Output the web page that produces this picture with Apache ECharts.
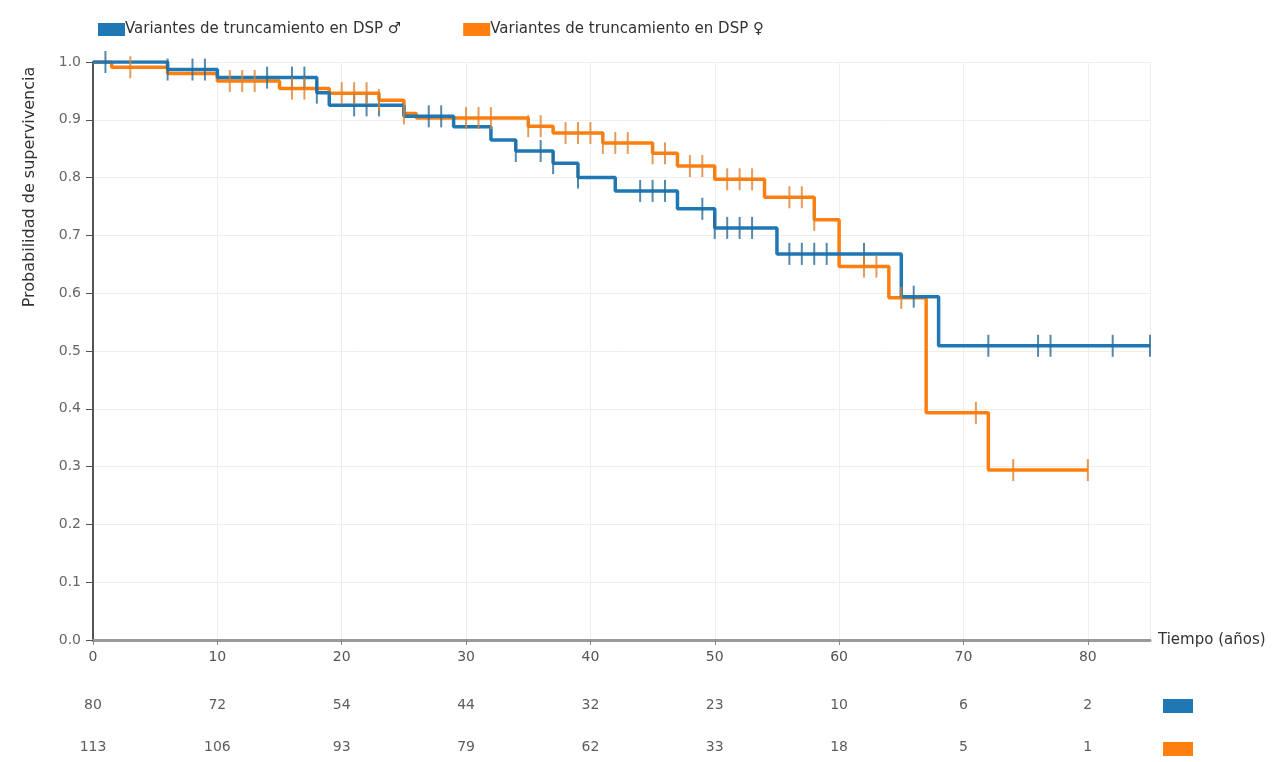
<!DOCTYPE html>
<html>
<head>
<meta charset="utf-8">
<script src="https://cdn.jsdelivr.net/npm/echarts@6/dist/echarts.min.js"></script>
<style>
html,body{margin:0;padding:0;background:#fff;}
#chart{width:1284px;height:762px;}
</style>
</head>
<body>
<div id="chart"></div>
<script>
// ---- Data ----
const seriesNames = ['Variantes de truncamiento en DSP \u2642', 'Variantes de truncamiento en DSP \u2640'];

const maleTimes = [0, 6, 10, 18, 19, 25, 29, 32, 34, 37, 39, 42, 47, 50, 55, 65, 68, 85];
const maleSurv  = [1.0, 0.987, 0.973, 0.947, 0.925, 0.906, 0.888, 0.865, 0.846, 0.825, 0.80, 0.777, 0.746, 0.713, 0.668, 0.594, 0.509, 0.509];
const maleCensor = [1, 6, 8, 9, 14, 16, 17, 18, 21, 22, 23, 27, 28, 34, 36, 37, 39, 44, 45, 46, 49, 50, 51, 52, 53, 56, 57, 58, 59, 62, 66, 72, 76, 77, 82, 85];

const femaleTimes = [0, 1.5, 6, 10, 15, 19, 23, 25, 26, 35, 37, 41, 45, 47, 50, 54, 58, 60, 64, 67, 72, 80];
const femaleSurv  = [1.0, 0.991, 0.98, 0.967, 0.954, 0.946, 0.934, 0.911, 0.903, 0.889, 0.877, 0.86, 0.842, 0.82, 0.797, 0.766, 0.727, 0.646, 0.592, 0.393, 0.294, 0.294];
const femaleCensor = [3, 11, 12, 13, 16, 17, 20, 21, 22, 23, 25, 30, 31, 32, 35, 36, 38, 39, 40, 41, 42, 43, 45, 46, 48, 49, 51, 52, 53, 56, 57, 58, 62, 63, 65, 71, 74, 80];

const riskTimes = [0, 10, 20, 30, 40, 50, 60, 70, 80];
const maleAtRisk = [80, 72, 54, 44, 32, 23, 10, 6, 2];
const femaleAtRisk = [113, 106, 93, 79, 62, 33, 18, 5, 1];
const riskRows = ['male', 'female'];

// ---- Helpers ----
const BLUE = '#1f77b4', ORANGE = '#ff7f0e';
const FONT = 'DejaVu Sans';
function survAt(times, surv, t) {
  let v = surv[0];
  for (let i = 0; i < times.length; i++) if (times[i] <= t) v = surv[i];
  return v;
}
const stepData = (times, surv) => times.map((t, i) => [t, surv[i]]);
const censorData = (c, times, surv) => c.map(t => [t, survAt(times, surv, t)]);
const riskLabel = {show: true, position: 'inside', formatter: p => String(p.value[2]),
  fontFamily: FONT, fontSize: 14, color: '#333'};

const chart = echarts.init(document.getElementById('chart'), null, {renderer: 'canvas'});
chart.setOption({
  animation: false,
  backgroundColor: '#fff',
  textStyle: {fontFamily: FONT},
  legend: {
    data: seriesNames,
    left: 93, top: 17,
    itemWidth: 27, itemHeight: 13, itemGap: 62,
    icon: 'rect',
    textStyle: {fontFamily: FONT, fontSize: 15, color: '#333', padding: [0, 0, 0, -5]}
  },
  grid: [
    {left: 93, right: 134, top: 62, bottom: 122, containLabel: false},
    {left: 93, right: 134, top: 705, height: 42, containLabel: false}
  ],
  xAxis: [
    {
      gridIndex: 0, type: 'value', min: 0, max: 85, interval: 10,
      name: 'Tiempo (años)', nameLocation: 'end', nameGap: 8,
      nameTextStyle: {fontFamily: FONT, fontSize: 15, color: '#333', padding: [0, 0, 6, 0]},
      axisLine: {lineStyle: {color: '#999', width: 3}},
      axisTick: {show: true, length: 5, lineStyle: {color: '#888'}},
      axisLabel: {fontFamily: FONT, fontSize: 14, color: '#555', margin: 10, showMaxLabel: false},
      splitLine: {show: true, lineStyle: {color: '#eeeeee'}}
    },
    {gridIndex: 1, type: 'value', min: 0, max: 85, show: false}
  ],
  yAxis: [
    {
      gridIndex: 0, type: 'value', min: 0, max: 1, interval: 0.1,
      axisLine: {show: true, lineStyle: {color: '#555', width: 2}},
      axisTick: {show: true, length: 7, lineStyle: {color: '#555'}},
      axisLabel: {fontFamily: FONT, fontSize: 14, color: '#666', margin: 12,
        formatter: v => v.toFixed(1)},
      splitLine: {show: true, lineStyle: {color: '#eeeeee'}}
    },
    {gridIndex: 1, type: 'category', data: riskRows, inverse: true, boundaryGap: false, show: false}
  ],
  graphic: [
    {
      type: 'text', x: 30, y: 187, rotation: Math.PI / 2,
      style: {text: 'Probabilidad de supervivencia', fontFamily: FONT, fontSize: 16,
        fill: '#333', textAlign: 'center', textVerticalAlign: 'middle'}
    },
    {type: 'rect', shape: {x: 1163, y: 699, width: 30, height: 14}, style: {fill: BLUE}},
    {type: 'rect', shape: {x: 1163, y: 742, width: 30, height: 14}, style: {fill: ORANGE}}
  ],
  series: [
    {
      name: seriesNames[0], type: 'line', step: 'end', xAxisIndex: 0, yAxisIndex: 0,
      data: stepData(maleTimes, maleSurv), showSymbol: false, symbol: 'none',
      lineStyle: {color: BLUE, width: 3.5}, itemStyle: {color: BLUE}, z: 3
    },
    {
      name: seriesNames[1], type: 'line', step: 'end', xAxisIndex: 0, yAxisIndex: 0,
      data: stepData(femaleTimes, femaleSurv), showSymbol: false, symbol: 'none',
      lineStyle: {color: ORANGE, width: 3.5}, itemStyle: {color: ORANGE}, z: 2
    },
    {
      name: 'cens-m', type: 'scatter', xAxisIndex: 0, yAxisIndex: 0,
      data: censorData(maleCensor, maleTimes, maleSurv),
      symbol: 'rect', symbolSize: [2, 22],
      itemStyle: {color: '#2b6a98', opacity: 0.8}, z: 4, silent: true
    },
    {
      name: 'cens-f', type: 'scatter', xAxisIndex: 0, yAxisIndex: 0,
      data: censorData(femaleCensor, femaleTimes, femaleSurv),
      symbol: 'rect', symbolSize: [2, 22],
      itemStyle: {color: '#e0822e', opacity: 0.8}, z: 4, silent: true
    },
    {
      name: 'risk-m', type: 'scatter', xAxisIndex: 1, yAxisIndex: 1,
      data: riskTimes.map((t, i) => [t, riskRows[0], maleAtRisk[i]]),
      symbolSize: 1, itemStyle: {color: 'rgba(0,0,0,0)'},
      label: riskLabel, silent: true
    },
    {
      name: 'risk-f', type: 'scatter', xAxisIndex: 1, yAxisIndex: 1,
      data: riskTimes.map((t, i) => [t, riskRows[1], femaleAtRisk[i]]),
      symbolSize: 1, itemStyle: {color: 'rgba(0,0,0,0)'},
      label: riskLabel, silent: true
    }
  ]
});
</script>
</body>
</html>
